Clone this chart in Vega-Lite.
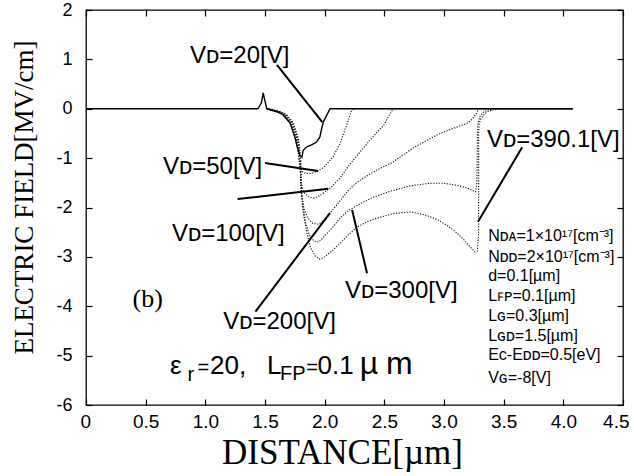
{
  "$schema": "https://vega.github.io/schema/vega-lite/v6.json",
  "width": 537,
  "height": 395,
  "autosize": {"type": "none"},
  "padding": {"left": 86, "top": 10, "right": 11, "bottom": 71},
  "background": "white",
  "config": {
    "view": {"stroke": "black", "strokeWidth": 1.3},
    "axis": {"grid": false, "domain": false, "tickColor": "black", "tickWidth": 1.2, "labelColor": "black", "titleColor": "black", "labelFlush": false, "labelOverlap": false}
  },
  "datasets": {
    "curves": [
      {"s": "VD=20", "i": 0, "x": 0, "y": 0},
      {"s": "VD=20", "i": 1, "x": 1.44, "y": 0},
      {"s": "VD=20", "i": 2, "x": 1.47, "y": 0.12},
      {"s": "VD=20", "i": 3, "x": 1.485, "y": 0.32},
      {"s": "VD=20", "i": 4, "x": 1.5, "y": 0.15},
      {"s": "VD=20", "i": 5, "x": 1.515, "y": 0.0},
      {"s": "VD=20", "i": 6, "x": 1.54, "y": -0.02},
      {"s": "VD=20", "i": 7, "x": 1.6, "y": -0.06},
      {"s": "VD=20", "i": 8, "x": 1.65, "y": -0.12},
      {"s": "VD=20", "i": 9, "x": 1.71, "y": -0.29},
      {"s": "VD=20", "i": 10, "x": 1.75, "y": -0.57},
      {"s": "VD=20", "i": 11, "x": 1.77, "y": -0.77},
      {"s": "VD=20", "i": 12, "x": 1.79, "y": -0.93},
      {"s": "VD=20", "i": 13, "x": 1.81, "y": -0.98},
      {"s": "VD=20", "i": 14, "x": 1.82, "y": -0.84},
      {"s": "VD=20", "i": 15, "x": 1.85, "y": -0.77},
      {"s": "VD=20", "i": 16, "x": 1.89, "y": -0.73},
      {"s": "VD=20", "i": 17, "x": 1.93, "y": -0.68},
      {"s": "VD=20", "i": 18, "x": 1.96, "y": -0.57},
      {"s": "VD=20", "i": 19, "x": 1.975, "y": -0.4},
      {"s": "VD=20", "i": 20, "x": 1.99, "y": -0.26},
      {"s": "VD=20", "i": 21, "x": 2.045, "y": 0},
      {"s": "VD=20", "i": 22, "x": 4.08, "y": 0},

      {"s": "VD=50", "i": 0, "x": 1.515, "y": 0.0},
      {"s": "VD=50", "i": 1, "x": 1.54, "y": -0.02},
      {"s": "VD=50", "i": 2, "x": 1.6, "y": -0.06},
      {"s": "VD=50", "i": 3, "x": 1.65, "y": -0.12},
      {"s": "VD=50", "i": 4, "x": 1.71, "y": -0.29},
      {"s": "VD=50", "i": 5, "x": 1.75, "y": -0.57},
      {"s": "VD=50", "i": 6, "x": 1.77, "y": -0.77},
      {"s": "VD=50", "i": 7, "x": 1.785, "y": -1.04},
      {"s": "VD=50", "i": 8, "x": 1.795, "y": -1.2},
      {"s": "VD=50", "i": 9, "x": 1.81, "y": -1.27},
      {"s": "VD=50", "i": 10, "x": 1.84, "y": -1.31},
      {"s": "VD=50", "i": 11, "x": 1.89, "y": -1.31},
      {"s": "VD=50", "i": 12, "x": 1.94, "y": -1.26},
      {"s": "VD=50", "i": 13, "x": 1.99, "y": -1.19},
      {"s": "VD=50", "i": 14, "x": 2.07, "y": -0.98},
      {"s": "VD=50", "i": 15, "x": 2.13, "y": -0.7},
      {"s": "VD=50", "i": 16, "x": 2.17, "y": -0.42},
      {"s": "VD=50", "i": 17, "x": 2.2, "y": -0.23},
      {"s": "VD=50", "i": 18, "x": 2.22, "y": -0.06},
      {"s": "VD=50", "i": 19, "x": 2.245, "y": 0},
      {"s": "VD=50", "i": 20, "x": 4.08, "y": 0},

      {"s": "VD=100", "i": 0, "x": 1.52, "y": 0.0},
      {"s": "VD=100", "i": 1, "x": 1.548, "y": -0.02},
      {"s": "VD=100", "i": 2, "x": 1.608, "y": -0.06},
      {"s": "VD=100", "i": 3, "x": 1.658, "y": -0.12},
      {"s": "VD=100", "i": 4, "x": 1.718, "y": -0.29},
      {"s": "VD=100", "i": 5, "x": 1.758, "y": -0.57},
      {"s": "VD=100", "i": 6, "x": 1.776, "y": -0.77},
      {"s": "VD=100", "i": 7, "x": 1.79, "y": -1.04},
      {"s": "VD=100", "i": 8, "x": 1.797, "y": -1.3},
      {"s": "VD=100", "i": 9, "x": 1.803, "y": -1.5},
      {"s": "VD=100", "i": 10, "x": 1.815, "y": -1.62},
      {"s": "VD=100", "i": 11, "x": 1.835, "y": -1.72},
      {"s": "VD=100", "i": 12, "x": 1.87, "y": -1.79},
      {"s": "VD=100", "i": 13, "x": 1.91, "y": -1.81},
      {"s": "VD=100", "i": 14, "x": 1.96, "y": -1.76},
      {"s": "VD=100", "i": 15, "x": 2.05, "y": -1.6},
      {"s": "VD=100", "i": 16, "x": 2.13, "y": -1.4},
      {"s": "VD=100", "i": 17, "x": 2.2, "y": -1.16},
      {"s": "VD=100", "i": 18, "x": 2.26, "y": -0.98},
      {"s": "VD=100", "i": 19, "x": 2.35, "y": -0.72},
      {"s": "VD=100", "i": 20, "x": 2.43, "y": -0.5},
      {"s": "VD=100", "i": 21, "x": 2.49, "y": -0.35},
      {"s": "VD=100", "i": 22, "x": 2.53, "y": -0.18},
      {"s": "VD=100", "i": 23, "x": 2.56, "y": -0.05},
      {"s": "VD=100", "i": 24, "x": 2.58, "y": 0},
      {"s": "VD=100", "i": 25, "x": 4.08, "y": 0},

      {"s": "VD=200", "i": 0, "x": 1.525, "y": 0.0},
      {"s": "VD=200", "i": 1, "x": 1.556, "y": -0.02},
      {"s": "VD=200", "i": 2, "x": 1.616, "y": -0.06},
      {"s": "VD=200", "i": 3, "x": 1.666, "y": -0.12},
      {"s": "VD=200", "i": 4, "x": 1.726, "y": -0.29},
      {"s": "VD=200", "i": 5, "x": 1.764, "y": -0.57},
      {"s": "VD=200", "i": 6, "x": 1.782, "y": -0.77},
      {"s": "VD=200", "i": 7, "x": 1.794, "y": -1.04},
      {"s": "VD=200", "i": 8, "x": 1.8, "y": -1.5},
      {"s": "VD=200", "i": 9, "x": 1.81, "y": -1.8},
      {"s": "VD=200", "i": 10, "x": 1.83, "y": -2.05},
      {"s": "VD=200", "i": 11, "x": 1.86, "y": -2.22},
      {"s": "VD=200", "i": 12, "x": 1.9, "y": -2.32},
      {"s": "VD=200", "i": 13, "x": 1.95, "y": -2.34},
      {"s": "VD=200", "i": 14, "x": 2.0, "y": -2.25},
      {"s": "VD=200", "i": 15, "x": 2.05, "y": -2.1},
      {"s": "VD=200", "i": 16, "x": 2.13, "y": -1.86},
      {"s": "VD=200", "i": 17, "x": 2.2, "y": -1.65},
      {"s": "VD=200", "i": 18, "x": 2.27, "y": -1.49},
      {"s": "VD=200", "i": 19, "x": 2.38, "y": -1.32},
      {"s": "VD=200", "i": 20, "x": 2.47, "y": -1.2},
      {"s": "VD=200", "i": 21, "x": 2.56, "y": -1.1},
      {"s": "VD=200", "i": 22, "x": 2.66, "y": -0.93},
      {"s": "VD=200", "i": 23, "x": 2.75, "y": -0.78},
      {"s": "VD=200", "i": 24, "x": 2.85, "y": -0.65},
      {"s": "VD=200", "i": 25, "x": 2.95, "y": -0.52},
      {"s": "VD=200", "i": 26, "x": 3.03, "y": -0.44},
      {"s": "VD=200", "i": 27, "x": 3.12, "y": -0.36},
      {"s": "VD=200", "i": 28, "x": 3.2, "y": -0.29},
      {"s": "VD=200", "i": 29, "x": 3.24, "y": -0.2},
      {"s": "VD=200", "i": 30, "x": 3.27, "y": -0.1},
      {"s": "VD=200", "i": 31, "x": 3.29, "y": 0},
      {"s": "VD=200", "i": 32, "x": 4.08, "y": 0},

      {"s": "VD=300", "i": 0, "x": 1.53, "y": 0.0},
      {"s": "VD=300", "i": 1, "x": 1.564, "y": -0.02},
      {"s": "VD=300", "i": 2, "x": 1.624, "y": -0.06},
      {"s": "VD=300", "i": 3, "x": 1.674, "y": -0.12},
      {"s": "VD=300", "i": 4, "x": 1.732, "y": -0.29},
      {"s": "VD=300", "i": 5, "x": 1.77, "y": -0.57},
      {"s": "VD=300", "i": 6, "x": 1.786, "y": -0.77},
      {"s": "VD=300", "i": 7, "x": 1.797, "y": -1.04},
      {"s": "VD=300", "i": 8, "x": 1.802, "y": -1.6},
      {"s": "VD=300", "i": 9, "x": 1.82, "y": -2.0},
      {"s": "VD=300", "i": 10, "x": 1.84, "y": -2.3},
      {"s": "VD=300", "i": 11, "x": 1.87, "y": -2.55},
      {"s": "VD=300", "i": 12, "x": 1.91, "y": -2.68},
      {"s": "VD=300", "i": 13, "x": 1.95, "y": -2.7},
      {"s": "VD=300", "i": 14, "x": 1.99, "y": -2.6},
      {"s": "VD=300", "i": 15, "x": 2.06, "y": -2.42},
      {"s": "VD=300", "i": 16, "x": 2.13, "y": -2.21},
      {"s": "VD=300", "i": 17, "x": 2.2, "y": -2.06},
      {"s": "VD=300", "i": 18, "x": 2.3, "y": -1.92},
      {"s": "VD=300", "i": 19, "x": 2.41, "y": -1.79},
      {"s": "VD=300", "i": 20, "x": 2.55, "y": -1.67},
      {"s": "VD=300", "i": 21, "x": 2.72, "y": -1.56},
      {"s": "VD=300", "i": 22, "x": 2.88, "y": -1.51},
      {"s": "VD=300", "i": 23, "x": 3.0, "y": -1.51},
      {"s": "VD=300", "i": 24, "x": 3.11, "y": -1.55},
      {"s": "VD=300", "i": 25, "x": 3.2, "y": -1.61},
      {"s": "VD=300", "i": 26, "x": 3.265, "y": -1.68},
      {"s": "VD=300", "i": 27, "x": 3.275, "y": -1.5},
      {"s": "VD=300", "i": 28, "x": 3.278, "y": -1.0},
      {"s": "VD=300", "i": 29, "x": 3.28, "y": -0.5},
      {"s": "VD=300", "i": 30, "x": 3.285, "y": -0.3},
      {"s": "VD=300", "i": 31, "x": 3.3, "y": -0.16},
      {"s": "VD=300", "i": 32, "x": 3.33, "y": -0.07},
      {"s": "VD=300", "i": 33, "x": 3.37, "y": -0.02},
      {"s": "VD=300", "i": 34, "x": 3.42, "y": 0},
      {"s": "VD=300", "i": 35, "x": 4.08, "y": 0},

      {"s": "VD=390.1", "i": 0, "x": 1.535, "y": 0.0},
      {"s": "VD=390.1", "i": 1, "x": 1.572, "y": -0.02},
      {"s": "VD=390.1", "i": 2, "x": 1.632, "y": -0.06},
      {"s": "VD=390.1", "i": 3, "x": 1.682, "y": -0.12},
      {"s": "VD=390.1", "i": 4, "x": 1.738, "y": -0.29},
      {"s": "VD=390.1", "i": 5, "x": 1.776, "y": -0.57},
      {"s": "VD=390.1", "i": 6, "x": 1.79, "y": -0.77},
      {"s": "VD=390.1", "i": 7, "x": 1.8, "y": -1.04},
      {"s": "VD=390.1", "i": 8, "x": 1.805, "y": -1.7},
      {"s": "VD=390.1", "i": 9, "x": 1.82, "y": -2.1},
      {"s": "VD=390.1", "i": 10, "x": 1.85, "y": -2.5},
      {"s": "VD=390.1", "i": 11, "x": 1.88, "y": -2.8},
      {"s": "VD=390.1", "i": 12, "x": 1.92, "y": -2.98},
      {"s": "VD=390.1", "i": 13, "x": 1.96, "y": -3.05},
      {"s": "VD=390.1", "i": 14, "x": 2.0, "y": -3.0},
      {"s": "VD=390.1", "i": 15, "x": 2.07, "y": -2.86},
      {"s": "VD=390.1", "i": 16, "x": 2.13, "y": -2.72},
      {"s": "VD=390.1", "i": 17, "x": 2.2, "y": -2.55},
      {"s": "VD=390.1", "i": 18, "x": 2.27, "y": -2.4},
      {"s": "VD=390.1", "i": 19, "x": 2.36, "y": -2.28},
      {"s": "VD=390.1", "i": 20, "x": 2.46, "y": -2.2},
      {"s": "VD=390.1", "i": 21, "x": 2.58, "y": -2.12},
      {"s": "VD=390.1", "i": 22, "x": 2.72, "y": -2.09},
      {"s": "VD=390.1", "i": 23, "x": 2.83, "y": -2.14},
      {"s": "VD=390.1", "i": 24, "x": 2.94, "y": -2.24},
      {"s": "VD=390.1", "i": 25, "x": 3.03, "y": -2.37},
      {"s": "VD=390.1", "i": 26, "x": 3.11, "y": -2.52},
      {"s": "VD=390.1", "i": 27, "x": 3.17, "y": -2.66},
      {"s": "VD=390.1", "i": 28, "x": 3.22, "y": -2.8},
      {"s": "VD=390.1", "i": 29, "x": 3.26, "y": -2.9},
      {"s": "VD=390.1", "i": 30, "x": 3.28, "y": -2.88},
      {"s": "VD=390.1", "i": 31, "x": 3.29, "y": -2.5},
      {"s": "VD=390.1", "i": 32, "x": 3.29, "y": -1.5},
      {"s": "VD=390.1", "i": 33, "x": 3.29, "y": -0.5},
      {"s": "VD=390.1", "i": 34, "x": 3.295, "y": -0.3},
      {"s": "VD=390.1", "i": 35, "x": 3.31, "y": -0.2},
      {"s": "VD=390.1", "i": 36, "x": 3.34, "y": -0.1},
      {"s": "VD=390.1", "i": 37, "x": 3.38, "y": -0.04},
      {"s": "VD=390.1", "i": 38, "x": 3.46, "y": 0},
      {"s": "VD=390.1", "i": 39, "x": 4.08, "y": 0}
    ],
    "pointers": [
      {"s": "VD=20", "x": 1.6, "y": 0.89, "x2": 1.98, "y2": -0.27},
      {"s": "VD=50", "x": 1.5, "y": -1.1, "x2": 1.945, "y2": -1.26},
      {"s": "VD=100", "x": 1.27, "y": -1.83, "x2": 2.03, "y2": -1.62},
      {"s": "VD=200", "x": 1.42, "y": -4.11, "x2": 2.045, "y2": -2.11},
      {"s": "VD=300", "x": 2.23, "y": -2.05, "x2": 2.355, "y2": -3.33},
      {"s": "VD=390.1", "x": 3.285, "y": -2.29, "x2": 3.655, "y2": -0.78}
    ],
    "labels": [
      {"kind": "vd", "t": "Vᴅ=20[V]", "x": 0.872, "y": 0.93},
      {"kind": "vd", "t": "Vᴅ=50[V]", "x": 0.645, "y": -1.32},
      {"kind": "vd", "t": "Vᴅ=100[V]", "x": 0.72, "y": -2.68},
      {"kind": "vd", "t": "Vᴅ=200[V]", "x": 1.15, "y": -4.46},
      {"kind": "vd", "t": "Vᴅ=300[V]", "x": 2.17, "y": -3.83},
      {"kind": "vd", "t": "Vᴅ=390.1[V]", "x": 3.36, "y": -0.78},
      {"kind": "param", "t": "Nᴅᴀ=1×10¹⁷[cm⁻³]", "x": 3.37, "y": -2.68},
      {"kind": "param", "t": "Nᴅᴅ=2×10¹⁷[cm⁻³]", "x": 3.37, "y": -3.1},
      {"kind": "param", "t": "d=0.1[µm]", "x": 3.37, "y": -3.49},
      {"kind": "param", "t": "Lꜰᴘ=0.1[µm]", "x": 3.37, "y": -3.89},
      {"kind": "param", "t": "Lɢ=0.3[µm]", "x": 3.37, "y": -4.3},
      {"kind": "param", "t": "Lɢᴅ=1.5[µm]", "x": 3.37, "y": -4.7},
      {"kind": "param", "t": "Eᴄ-Eᴅᴅ=0.5[eV]", "x": 3.37, "y": -5.09},
      {"kind": "param", "t": "Vɢ=-8[V]", "x": 3.37, "y": -5.55},
      {"kind": "b", "t": "(b)", "x": 0.39, "y": -4.02},
      {"kind": "eq", "t": "ε", "x": 0.704, "y": -5.37},
      {"kind": "op", "t": "=", "x": 0.935, "y": -5.37},
      {"kind": "eq", "t": "20,", "x": 1.04, "y": -5.37},
      {"kind": "eq", "t": "L", "x": 1.517, "y": -5.37},
      {"kind": "op", "t": "=", "x": 1.845, "y": -5.37},
      {"kind": "eq", "t": "0.1", "x": 1.94, "y": -5.37},
      {"kind": "mu", "t": "µ", "x": 2.295, "y": -5.37},
      {"kind": "mu", "t": "m", "x": 2.515, "y": -5.37},
      {"kind": "sub", "t": "r", "x": 0.85, "y": -5.51},
      {"kind": "sub", "t": "FP", "x": 1.625, "y": -5.5}
    ]
  },
  "layer": [
    {
      "data": {"name": "curves"},
      "transform": [{"filter": "datum.s != 'VD=20'"}],
      "mark": {"type": "line", "color": "#111", "strokeWidth": 1.1, "strokeDash": [1.2, 1.5], "clip": true},
      "encoding": {
        "x": {"field": "x", "type": "quantitative", "scale": {"domain": [0, 4.5], "nice": false, "zero": false},
          "axis": {"orient": "bottom", "values": [0, 0.5, 1, 1.5, 2, 2.5, 3, 3.5, 4, 4.5], "labelExpr": "datum.value == 0 ? '0' : format(datum.value, '.1f')", "labelFont": "Liberation Sans", "labelFontSize": 19, "labelPadding": 13, "labelFlush": true, "labelFlushOffset": 6, "tickSize": -6, "title": "DISTANCE[µm]", "titleFont": "Liberation Serif", "titleFontSize": 35, "titleFontWeight": "normal", "titleX": 256, "titleY": 58, "titleAlign": "center", "titleBaseline": "alphabetic"}},
        "y": {"field": "y", "type": "quantitative", "scale": {"domain": [-6, 2], "nice": false, "zero": false},
          "axis": {"orient": "left", "values": [-6, -5, -4, -3, -2, -1, 0, 1, 2], "labelExpr": "datum.value < 0 ? '-' + format(-datum.value, 'd') : format(datum.value, 'd')", "labelFont": "Liberation Sans", "labelFontSize": 18, "labelPadding": 20, "tickSize": -6, "title": "ELECTRIC FIELD[MV/cm]", "titleFont": "Liberation Serif", "titleFontSize": 27, "titleFontWeight": "normal", "titleX": -62, "titleY": 187, "titleAlign": "center", "titleBaseline": "middle", "titleAngle": -90}},
        "detail": {"field": "s", "type": "nominal"},
        "order": {"field": "i", "type": "quantitative"}
      }
    },
    {
      "data": {"name": "curves"},
      "transform": [{"filter": "datum.s == 'VD=20'"}],
      "mark": {"type": "line", "color": "black", "strokeWidth": 1.4},
      "encoding": {
        "x": {"field": "x", "type": "quantitative", "scale": {"domain": [0, 4.5], "nice": false, "zero": false},
          "axis": {"orient": "top", "values": [0, 0.5, 1, 1.5, 2, 2.5, 3, 3.5, 4, 4.5], "labels": false, "tickSize": -6, "title": null}},
        "y": {"field": "y", "type": "quantitative", "scale": {"domain": [-6, 2], "nice": false, "zero": false},
          "axis": {"orient": "right", "values": [-6, -5, -4, -3, -2, -1, 0, 1, 2], "labels": false, "tickSize": -6, "title": null}},
        "order": {"field": "i", "type": "quantitative"}
      }
    },
    {
      "data": {"name": "pointers"},
      "mark": {"type": "rule", "color": "black", "strokeWidth": 2},
      "encoding": {
        "x": {"field": "x", "type": "quantitative", "axis": null},
        "y": {"field": "y", "type": "quantitative", "axis": null},
        "x2": {"field": "x2"},
        "y2": {"field": "y2"}
      }
    },
    {
      "data": {"name": "labels"},
      "transform": [{"filter": "datum.kind == 'vd'"}],
      "mark": {"type": "text", "align": "left", "baseline": "alphabetic", "font": "Liberation Sans", "fontSize": 24, "color": "black"},
      "encoding": {
        "x": {"field": "x", "type": "quantitative", "axis": null},
        "y": {"field": "y", "type": "quantitative", "axis": null},
        "text": {"field": "t"}
      }
    },
    {
      "data": {"name": "labels"},
      "transform": [{"filter": "datum.kind == 'param'"}],
      "mark": {"type": "text", "align": "left", "baseline": "alphabetic", "font": "Liberation Sans", "fontSize": 16, "color": "black"},
      "encoding": {
        "x": {"field": "x", "type": "quantitative", "axis": null},
        "y": {"field": "y", "type": "quantitative", "axis": null},
        "text": {"field": "t"}
      }
    },
    {
      "data": {"name": "labels"},
      "transform": [{"filter": "datum.kind == 'b'"}],
      "mark": {"type": "text", "align": "left", "baseline": "alphabetic", "font": "Liberation Serif", "fontSize": 26, "color": "black"},
      "encoding": {
        "x": {"field": "x", "type": "quantitative", "axis": null},
        "y": {"field": "y", "type": "quantitative", "axis": null},
        "text": {"field": "t"}
      }
    },
    {
      "data": {"name": "labels"},
      "transform": [{"filter": "datum.kind == 'eq'"}],
      "mark": {"type": "text", "align": "left", "baseline": "alphabetic", "font": "Liberation Sans", "fontSize": 26, "color": "black"},
      "encoding": {
        "x": {"field": "x", "type": "quantitative", "axis": null},
        "y": {"field": "y", "type": "quantitative", "axis": null},
        "text": {"field": "t"}
      }
    },
    {
      "data": {"name": "labels"},
      "transform": [{"filter": "datum.kind == 'op'"}],
      "mark": {"type": "text", "align": "left", "baseline": "alphabetic", "font": "Liberation Sans", "fontSize": 20, "color": "black"},
      "encoding": {
        "x": {"field": "x", "type": "quantitative", "axis": null},
        "y": {"field": "y", "type": "quantitative", "axis": null},
        "text": {"field": "t"}
      }
    },
    {
      "data": {"name": "labels"},
      "transform": [{"filter": "datum.kind == 'mu'"}],
      "mark": {"type": "text", "align": "left", "baseline": "alphabetic", "font": "Liberation Sans", "fontSize": 32, "color": "black"},
      "encoding": {
        "x": {"field": "x", "type": "quantitative", "axis": null},
        "y": {"field": "y", "type": "quantitative", "axis": null},
        "text": {"field": "t"}
      }
    },
    {
      "data": {"name": "labels"},
      "transform": [{"filter": "datum.kind == 'sub'"}],
      "mark": {"type": "text", "align": "left", "baseline": "alphabetic", "font": "Liberation Sans", "fontSize": 20, "color": "black"},
      "encoding": {
        "x": {"field": "x", "type": "quantitative", "axis": null},
        "y": {"field": "y", "type": "quantitative", "axis": null},
        "text": {"field": "t"}
      }
    }
  ],
  "resolve": {"axis": {"x": "independent", "y": "independent"}}
}
